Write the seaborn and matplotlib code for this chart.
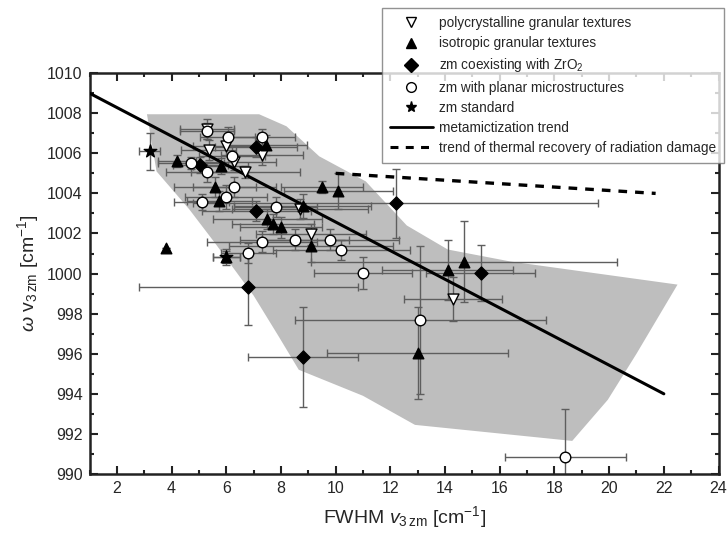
"""
Raman band position vs FWHM of the v3 zircon band, with metamictization trend.
Run: python plot.py
"""

import numpy as np
import pandas as pd
import matplotlib
matplotlib.use("Agg")
import matplotlib.pyplot as plt
from matplotlib.lines import Line2D
from matplotlib.ticker import MultipleLocator
import seaborn as sns

sns.set_style("ticks")
plt.rcParams["font.family"] = ["Liberation Sans", "DejaVu Sans"]
plt.rcParams["mathtext.fontset"] = "custom"
plt.rcParams["mathtext.rm"] = "Liberation Sans"
plt.rcParams["mathtext.it"] = "Liberation Sans:italic"

# --- data: (fwhm, omega, fwhm error, omega error) ---
poly_x  = [5.3, 5.35, 6.0, 6.3, 6.7, 7.3, 8.7, 9.1, 14.3]
poly_y  = [1007.2, 1006.15, 1006.35, 1005.55, 1005.05, 1005.9, 1003.2, 1001.95, 998.75]
poly_xe = [1.0, 1.0, 1.2, 1.5, 2.0, 1.5, 2.5, 2.0, 1.8]
poly_ye = [0.5, 0.5, 0.5, 0.4, 0.3, 0.5, 0.5, 0.5, 1.1]

iso_x  = [3.8, 4.2, 5.8, 5.6, 5.75, 7.45, 7.5, 7.7, 8.0, 8.8, 9.1, 9.5, 10.1, 6.0, 14.1, 14.7, 13.0]
iso_y  = [1001.3, 1005.6, 1005.35, 1004.3, 1003.6, 1006.4, 1002.7, 1002.45, 1002.3, 1003.35,
          1001.4, 1004.3, 1004.1, 1000.85, 1000.2, 1000.6, 996.05]
iso_xe = [0.0, 0.7, 1.0, 1.5, 1.2, 1.5, 2.0, 1.5, 1.5, 2.5, 3.0, 1.5, 2.0, 0.5, 2.4, 5.6, 3.3]
iso_ye = [0.0, 0.3, 0.4, 0.5, 0.5, 0.5, 0.5, 0.5, 0.5, 0.6, 0.8, 0.3, 0.9, 0.3, 1.5, 2.0, 2.3]

zro_x  = [5.05, 7.1, 7.1, 12.2, 15.3, 6.8, 8.8]
zro_y  = [1005.4, 1006.3, 1003.1, 1003.5, 1000.05, 999.35, 995.85]
zro_xe = [1.0, 1.5, 2.0, 7.4, 2.0, 4.0, 2.0]
zro_ye = [0.4, 0.5, 0.5, 1.7, 1.4, 1.9, 2.5]

plan_x  = [4.7, 5.3, 5.3, 5.1, 6.05, 6.2, 6.3, 6.0, 7.3, 7.8, 7.3, 6.8, 8.5, 9.8, 10.2, 11.0, 13.1, 18.4]
plan_y  = [1005.5, 1007.1, 1005.05, 1003.55, 1006.8, 1005.85, 1004.3, 1003.8, 1006.8, 1003.3,
           1001.6, 1001.05, 1001.7, 1001.7, 1001.2, 1000.05, 997.7, 990.85]
plan_xe = [1.2, 1.0, 1.5, 1.0, 1.0, 1.2, 1.5, 1.5, 1.2, 1.5, 2.0, 1.0, 2.0, 2.5, 2.5, 1.8, 4.6, 2.2]
plan_ye = [0.3, 0.4, 0.5, 0.4, 0.5, 0.5, 0.5, 0.6, 0.4, 0.5, 0.5, 0.5, 0.5, 0.5, 0.5, 0.8, 3.7, 2.4]

std_x  = [3.2, 6.0]
std_y  = [1006.1, 1000.85]
std_xe = [0.38, 0.5]
std_ye = [0.93, 0.4]

# shaded field of data
field_x = [3.1, 7.2, 8.2, 9.4, 11.1, 12.6, 14.1, 16.4, 22.5, 21.0, 19.95, 18.65,
           12.9, 11.0, 8.65, 7.9, 7.0, 6.3, 5.6, 4.65, 3.45]
field_y = [1007.95, 1007.95, 1007.35, 1005.85, 1004.6, 1002.4, 1001.2, 1000.6, 999.45,
           996.0, 993.7, 991.65, 992.45, 993.9, 995.2, 996.9, 998.9, 1000.2, 1001.5, 1003.2, 1005.1]

trend_x = [1.0, 22.0]
trend_y = [1009.0, 994.0]
recov_x = [10.0, 21.7]
recov_y = [1005.0, 1004.0]

groups = [
    ("polycrystalline granular textures", poly_x, poly_y, poly_xe, poly_ye, "v", "white"),
    ("isotropic granular textures", iso_x, iso_y, iso_xe, iso_ye, "^", "black"),
    ("zm coexisting with ZrO$_2$", zro_x, zro_y, zro_xe, zro_ye, "D", "black"),
    ("zm with planar microstructures", plan_x, plan_y, plan_xe, plan_ye, "o", "white"),
    ("zm standard", std_x, std_y, std_xe, std_ye, "*", "black"),
]
sizes = {"v": 62, "^": 58, "D": 44, "o": 58, "*": 90}

fig = plt.figure(figsize=(7.28, 5.38), dpi=100)
ax = fig.add_axes([0.123, 0.119, 0.864, 0.745])

ax.fill(field_x, field_y, color="#bebebe", lw=0, zorder=1)

# error bars
for label, x, y, xe, ye, mk, fc in groups:
    ax.errorbar(x, y, xerr=xe, yerr=ye, fmt="none", ecolor="#5e5e5e",
                elinewidth=1.0, capsize=3.2, capthick=1.0, zorder=2)

ax.plot(trend_x, trend_y, color="black", lw=2.2, zorder=3)
ax.plot(recov_x, recov_y, color="black", lw=2.4, ls=(0, (2.6, 2.4)), zorder=3)

for label, x, y, xe, ye, mk, fc in groups:
    df = pd.DataFrame({"fwhm": x, "omega": y})
    sns.scatterplot(data=df, x="fwhm", y="omega", marker=mk, s=sizes[mk],
                    color=fc, edgecolor="black", linewidth=1.0, ax=ax, zorder=4)

ax.set_xlim(1, 24)
ax.set_ylim(990, 1010)
ax.xaxis.set_major_locator(MultipleLocator(2))
ax.xaxis.set_minor_locator(MultipleLocator(1))
ax.yaxis.set_major_locator(MultipleLocator(2))
ax.yaxis.set_minor_locator(MultipleLocator(1))
ax.tick_params(which="both", direction="in", top=True, right=True, width=1.5,
               labelsize=11.5, color="#222222")
ax.tick_params(which="major", length=6, pad=5)
ax.tick_params(which="minor", length=3)
for s in ax.spines.values():
    s.set_linewidth(1.8)
    s.set_color("#222222")

ax.set_xlabel(r"FWHM $\mathit{v}_{3\,\mathrm{zm}}$ [cm$^{-1}$]", fontsize=14, labelpad=6)
ax.set_ylabel(r"$\omega$ v$_{3\,\mathrm{zm}}$ [cm$^{-1}$]", fontsize=14, labelpad=4)

handles = []
for label, x, y, xe, ye, mk, fc in groups:
    handles.append(Line2D([], [], ls="none", marker=mk, markerfacecolor=fc,
                          markeredgecolor="black", markersize=7 if mk != "*" else 8,
                          label=label))
handles.append(Line2D([], [], color="black", lw=2, label="metamictization trend"))
handles.append(Line2D([], [], color="black", lw=2.2, ls=(0, (2.6, 2.4)),
                      label="trend of thermal recovery of radiation damage"))

leg = fig.legend(handles=handles, loc="upper right", bbox_to_anchor=(724 / 728, 1 - 8 / 538),
                 frameon=True, fancybox=False, fontsize=9.8, labelspacing=0.45,
                 handlelength=3.2, handletextpad=0.4, borderpad=0.6, borderaxespad=0)
leg.get_frame().set_edgecolor("#777777")
leg.get_frame().set_linewidth(1.0)

plt.savefig("out.png", dpi=100)
